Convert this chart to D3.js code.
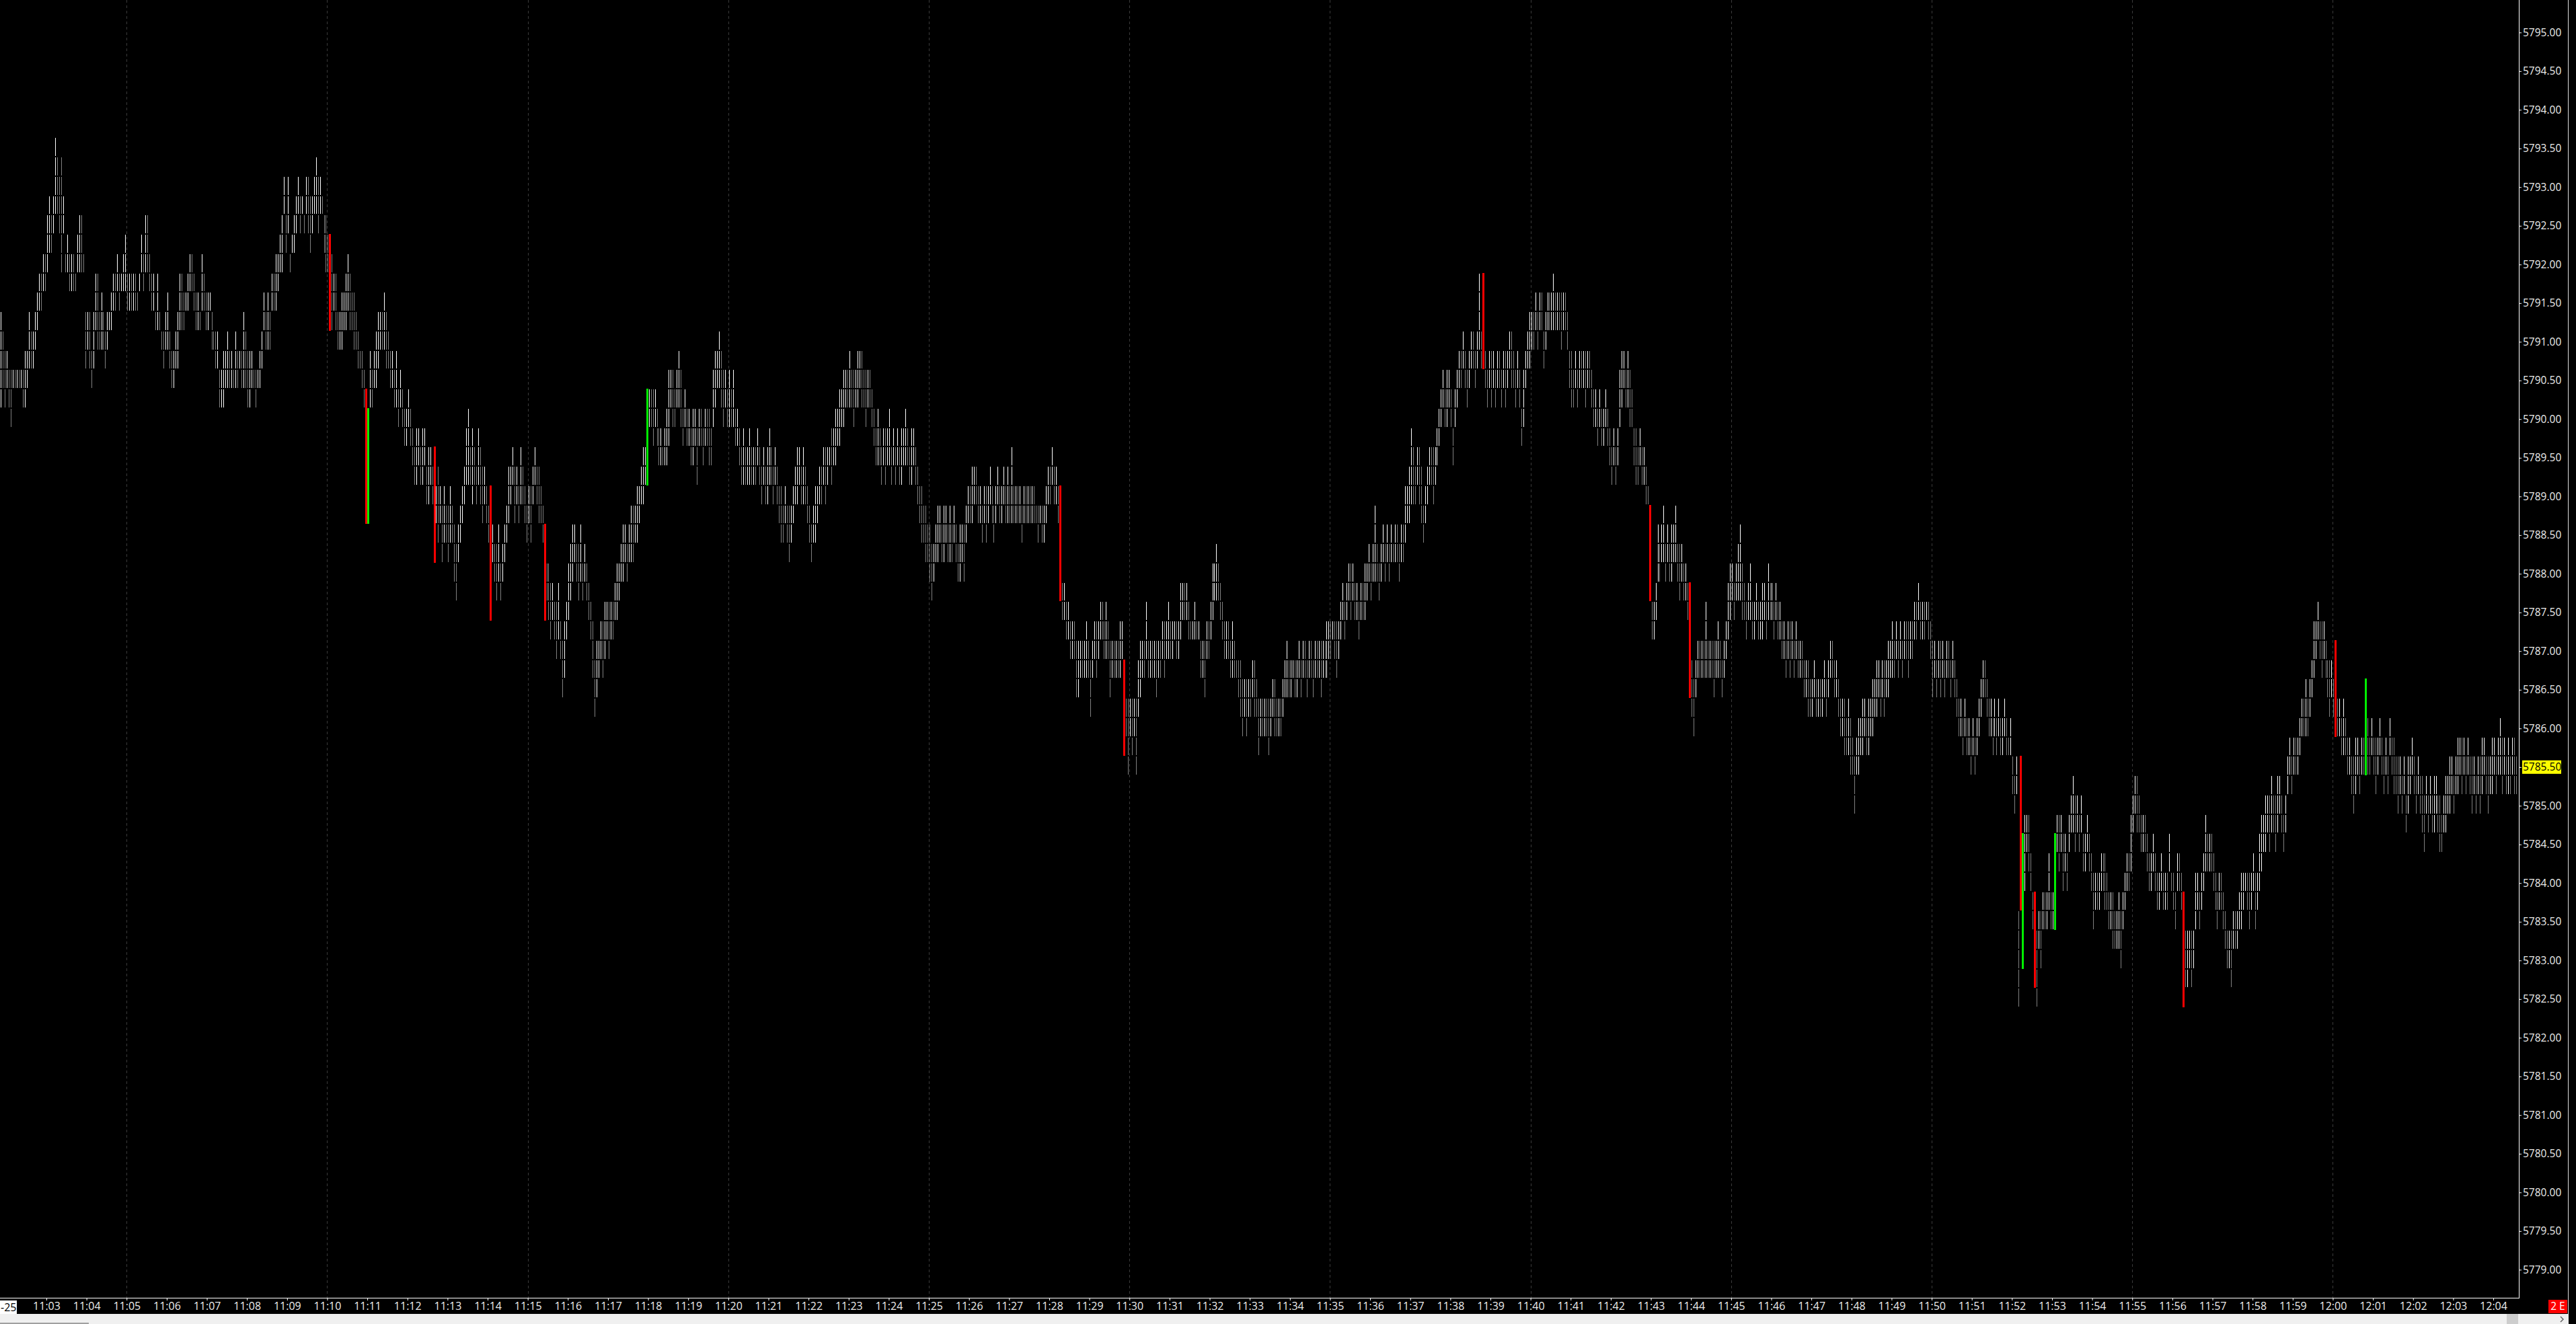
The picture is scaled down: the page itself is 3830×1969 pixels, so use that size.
<!DOCTYPE html>
<html><head><meta charset="utf-8">
<script src="https://cdn.jsdelivr.net/npm/d3@7"></script>
<style>
html,body{margin:0;padding:0;background:#000;overflow:hidden}
svg{display:block}
</style></head><body>
<script>
// ---------- DATA ----------
// Price level alphabet: index k => price 5780 + k*0.25
const levelAlphabet = "0123456789ABCDEFGHIJKLMNOPQRSTUVWXYZabcdefghijklmnopqrstuvwxyz";
const levelBase = 5780.00;
const levelStep = 0.25;
// 3-second bars starting at this time; each token = lowLevel highLevel,
// prefix "-" = large down bar (red), "+" = large up bar (green)
const barStart = "11:01:52";
const barSeconds = 3;

const barsPart1 = `
fj gi fh gh fg eg gg gg gg gg
gg fg fh gh hj hi hi ij jk kl
kl lm lm mo np no op ps pr oq
mr op mm mn lm lm lm ll mn mo
mo mm hj ij hj gh hj jl il ij
ik ij hi ij jj jk kl kl lm kl
ll lm ln kl kl kl kl kl kk ll
mn lm mo mo lm kl kl jj jl jj
ii hi ij ik hi gh gh hi hj jl
jl jk kk kl lm lm kl jk jk jj
km kl jk jk kk ij ii hi hi fg
fg fh gh gi gh gh gg gi gh hh
gh gj gi fh fh gh gg fg gg gh
hi jk ij ik ij kl kl km lm mn
mo pq no oq mm nn no op pq op
pp oo pq oq np op pq pr oq pq
pp no mo mn -jn jm kl jl ij ij
ik jk jl km jl jk ik ij hi hh
gh fg -Zf +Ze fh fg gh gi hj ij
ij ik hj hi gh gh fg fh ef fg
ef de de ef de cd bc bd cd bc
bd cd ab ac bc ab -Xc Za Yb Za
XZ Ya YZ XZ Ya YZ WY VX XY YZ
Za ab bd be bc ad bc ab bd ac
Zb ab Za YZ -Ua XY WX VX WY VW`;

const barsPart2 = `
WX XY YZ Zb ab bc Zb ab Za ac
ab Za YZ Za Ya ab bc ab Zb Za
YZ -UY VW UW TV UV TU SU TV ST
QS RT TU UW VX WY XY WX VX WY
VW WX VW UV TU RT PR QS RS ST
RT SU TU SU TU TU UV UW VW WX
WY XY WX XY XZ XZ YZ Ya Za ab
ac bc +bf ef ef df ef de cd cd
cc cd ce dg fg eg ef fg fh eg
de ef de de cd ce de bd de de
cd de de ce cd eg fh gh gi fh
eg fg ef eg ef eg de de cd bc
bd bc bc bd bc bc bc cd bc ab
bc ab ac bd bc ab bc ab Za Ya
YZ Za YZ XZ YZ Za ab ac bc ab
ac ab Za YZ XY YZ Ya Za ab ab
bc ac bc cc bd cd ce de df ef
eg fg fg fh fg eg fg fh gh fh
fg eg fg fg ef de cd ce cd bc
cd bd cd ce bc cd bc cd bc bd
cd ce cd bc bd cd bc ab Za Ya
YZ XZ XY WY VX WX XY XZ YZ XY
XZ YZ XY XZ XY YZ XY WX WY XY
WY YZ Za Za Zb ab ab Za Za YZ
Za Ya Za ab Za YZ Za ab Za Za`;

const barsPart3 = `
ab Za Zb Za Zc Za Za Za Za YZ
Za Za Za Za Za Za ZZ YZ ZZ YZ
YZ Za ab ab bc ab ab Za -Va UV
UV TU TU ST ST ST QS QS RS RS
RS RT RS PR RS ST RT ST TU TU
ST SU ST QS RS RS RS RS RT ST
-NR OP MP OP NP OP MP PR QS RS
RS SU RS RS RS RS QS RS RS ST
RT ST SU ST ST TT ST ST TV UV
UV UV TU TT TT TU TT TT RS RS
QS ST ST TU UW VW VX VW UV TU
ST ST ST RS RT RS RR QR PR OQ
PQ OQ PQ PQ QR PR PQ NP OP OP
OP OP NP OP PQ OQ OP OP OP PQ
QR QS QR QR RR QR QR RS QR RS
RS QR RS RS QR RS RS RS QS RS
RS RT ST ST TT ST RT ST TU UV
TU UV VW UW VW UV UV TU UV UV
UW VW WX VW WX WZ WX VW WX XY
WX XY WX XY XX XY XY WX XY XY
Ya Za Zb ad ac ab bc ac Zb YZ
Za ab bc bc ac bc cd de ef fg
ef eg fg ef cd ef fg gh gh hi
gh fg gh hi hi gh hi il hi -hl
gh fg gh fh gh fg gh gh fg gh`;

const barsPart4 = `
fh gh hi gi gh fg gh fg de eg
gh hi hj ij ij jk ij jk jk hi
ij jk jk jk jl jk jk jk ik jk
jk ij gh fh fg gh fg gh gh gh
fh gh gh fg ef ef de ef de de
ef de cd bc cd bc cd eg fh gh
fg fh eg ef cd bd bc cd bc bc
ab aa -VZ TU TU UV WY WX XY XZ
WX XY WX WY XY XZ WX VX WX VW
VW UV -QV PR OQ QR RS RS RS RS
RU RS RS RS QS RS RT RS QR RS
ST TV UW VW UV VW VX VY UW UV
TU UV UW TU TU UV TU TU TV UV
TU UW UV UV TU UV TU TU ST ST
RS ST RT ST RS ST RS RS RS QR
QR PR PQ PQ QR PQ PQ PQ PQ QR
PQ QR RS RS QR QR PQ OP OP NP
NO NP MO MN KM MN MO NO NP OP
NO NP OP OQ PQ PR QR PQ QR PR
QR QS RS RT RS ST RS ST RS ST
ST RT ST ST TU TU UV TU TU TU
UU TU ST QS RS QR RS QS RS QR
RS RS QR RS QR PQ OP OP NO OP
NO NO MN NO MN NO OP PQ QR QR
PQ OP OP NO OP NO OP NO NO OP`;

const barsPart5 = `
NO NN NO LM KL LM AE -FM +CI GJ
IJ HJ GH EF -BF AD DE CE EF EF
EF FH EF EF +EI IJ HJ IJ GI HI
GH IJ JK JL IK JK IJ JK HI HI
IJ HI GH EG FG FG FG GH GH FH
FG EF EF DF DE DE DF CE EF FG
GH GH HJ JK KL JL JK IJ IJ IJ
HI GH GH HI GH FG FG GH FG FG
FG HI GG FG EF GH GH FG -AF BD
BD CD BD CD EG FG EF FG GH HJ
HI HI HI GH FG EF FG FG EF DE
CD CD BD DE DE DE EF EG FG GG
FG EG FG GH EG FG GI HJ IJ IK
JK IK JL JK IK JL KL JK IJ JK
LM MN LM MN MN MN NO OP OP OQ
OP PQ QR RT ST TU ST RT ST RS
QR PR QR PQ -OS OP OP NO NP NO
MN MN LM KM LN MN LM MN MN +MQ
MO MN NO MN LN MN NO MN LM MN
LM NO MN LN LM KM LM KL LM JK
KM LM MN LM KL LM KL JL IK KL
JK KL JK JL KL JK IK IJ JK JL
KL KM LM KL LM LN MN LN MN LM
MN LM KM LM KL LM KM LN MN LM
KM LM LN MN LM MN MO LN MN LM
LN LM MN LN LM`;

const minuteLabels = ["11:03","11:04","11:05","11:06","11:07","11:08","11:09","11:10","11:11","11:12",
"11:13","11:14","11:15","11:16","11:17","11:18","11:19","11:20","11:21","11:22","11:23","11:24",
"11:25","11:26","11:27","11:28","11:29","11:30","11:31","11:32","11:33","11:34","11:35","11:36",
"11:37","11:38","11:39","11:40","11:41","11:42","11:43","11:44","11:45","11:46","11:47","11:48",
"11:49","11:50","11:51","11:52","11:53","11:54","11:55","11:56","11:57","11:58","11:59","12:00",
"12:01","12:02","12:03","12:04"];
const gridMinutes = ["11:05","11:10","11:15","11:20","11:25","11:30","11:35","11:40","11:45","11:50","11:55","12:00"];
const priceTicks = [5779.0,5779.5,5780.0,5780.5,5781.0,5781.5,5782.0,5782.5,5783.0,5783.5,5784.0,5784.5,
5785.0,5785.5,5786.0,5786.5,5787.0,5787.5,5788.0,5788.5,5789.0,5789.5,5790.0,5790.5,5791.0,5791.5,
5792.0,5792.5,5793.0,5793.5,5794.0,5794.5,5795.0];
const lastPrice = 5785.50;
const dateStub = "-25";
const connLabel = "2 E";

// ---------- PARSE ----------
const parseT = d3.timeParse("%H:%M:%S");
const t0 = parseT(barStart);
const lvl = c => levelBase + levelAlphabet.indexOf(c) * levelStep;
const tokens = [barsPart1, barsPart2, barsPart3, barsPart4, barsPart5].join(" ").trim().split(/\s+/);
let prevMid = null, prevColor = "w";
const bars = tokens.map((tok, i) => {
  let kind = "n";
  if (tok[0] === "-") { kind = "r"; tok = tok.slice(1); }
  else if (tok[0] === "+") { kind = "g"; tok = tok.slice(1); }
  const low = lvl(tok[0]), high = lvl(tok[1]);
  const mid = low + high;
  let col;
  if (prevMid === null || mid > prevMid) col = "w";
  else if (mid < prevMid) col = "g";
  else col = prevColor === "w" ? "g" : "w";
  if (kind === "n") { prevColor = col; }
  prevMid = mid;
  return { i, t: new Date(t0.getTime() + i * barSeconds * 1000), low, high, kind, col };
});

// ---------- LAYOUT ----------
const W = 3830, H = 1969;
const plotRight = 3745, plotBottom = 1930;
const svg = d3.select("body").append("svg").attr("width", W).attr("height", H)
  .style("font-family", "'Open Sans', 'Noto Sans', sans-serif");
svg.append("rect").attr("width", W).attr("height", H).attr("fill", "#000");

const x = d3.scaleTime().domain([parseT("11:03:00"), parseT("12:04:00")]).range([69, 3707]);
const y = d3.scaleLinear().domain([5779, 5795]).range([1888.3, 48.3]);
const half = (y(5779) - y(5779.25)) / 2; // half level height
const yOff = -2;

svg.append("defs").append("clipPath").attr("id", "plot")
  .append("rect").attr("x", 0).attr("y", 0).attr("width", plotRight).attr("height", plotBottom);

// grid
svg.append("g").selectAll("line").data(gridMinutes).join("line")
  .attr("x1", d => Math.round(x(parseT(d + ":00"))) + 0.5)
  .attr("x2", d => Math.round(x(parseT(d + ":00"))) + 0.5)
  .attr("y1", 0).attr("y2", plotBottom)
  .attr("stroke", "#3a3a3a").attr("stroke-width", 1).attr("stroke-dasharray", "4,4");

const plot = svg.append("g").attr("clip-path", "url(#plot)").attr("shape-rendering", "crispEdges");

// normal bars: one box per price level
const segs = [];
bars.filter(b => b.kind === "n").forEach(b => {
  const n = Math.round((b.high - b.low) / levelStep);
  for (let k = 0; k <= n; k++) segs.push({ b, p: b.low + k * levelStep });
});
plot.append("g").selectAll("rect").data(segs).join("rect")
  .attr("x", d => Math.round(x(d.b.t)))
  .attr("width", 1)
  .attr("y", d => y(d.p) - half + yOff + 1)
  .attr("height", 2 * half - 2)
  .attr("fill", d => d.b.col === "w" ? "#ffffff" : "#808080");

// big bars
plot.append("g").selectAll("rect").data(bars.filter(b => b.kind !== "n")).join("rect")
  .attr("x", d => Math.round(x(d.t)) - 1)
  .attr("width", 3)
  .attr("y", d => y(d.high) - half + yOff)
  .attr("height", d => y(d.low) - y(d.high) + 2 * half)
  .attr("fill", d => d.kind === "r" ? "#ff0000" : "#00f000");

// axes frame
svg.append("line").attr("x1", plotRight + 0.5).attr("x2", plotRight + 0.5).attr("y1", 0).attr("y2", plotBottom + 1)
  .attr("stroke", "#ffffff");
svg.append("line").attr("x1", 0).attr("x2", plotRight).attr("y1", plotBottom + 0.5).attr("y2", plotBottom + 0.5)
  .attr("stroke", "#ffffff");
svg.append("line").attr("x1", 3818.5).attr("x2", 3818.5).attr("y1", 0).attr("y2", 1954)
  .attr("stroke", "#dddddd");

// x axis
const gx = svg.append("g").attr("transform", `translate(0,${plotBottom})`)
  .call(d3.axisBottom(x).tickValues(minuteLabels.map(m => parseT(m + ":00")))
    .tickFormat(d3.timeFormat("%H:%M")).tickSize(4).tickPadding(3));
gx.select(".domain").remove();
gx.selectAll(".tick line").attr("stroke", "#ffffff");
gx.selectAll(".tick text").attr("fill", "#ececec").style("font-size", "16px")
  .style("font-family", "'Open Sans', sans-serif");

// y axis
const gy = svg.append("g").attr("transform", `translate(${plotRight},0)`)
  .call(d3.axisRight(y).tickValues(priceTicks).tickFormat(d3.format(".2f")).tickSize(4).tickPadding(2));
gy.select(".domain").remove();
gy.selectAll(".tick line").attr("stroke", "#ffffff");
gy.selectAll(".tick text").attr("fill", "#ececec").style("font-size", "15.5px")
  .style("font-family", "'Open Sans', sans-serif");

// last price tag
const ly = y(lastPrice);
svg.append("rect").attr("x", 3750).attr("y", ly - 10).attr("width", 58).attr("height", 20).attr("fill", "#ffff00");
svg.append("text").attr("x", 3751).attr("y", ly).attr("dy", "0.35em").attr("fill", "#000")
  .style("font-size", "15.5px").text(d3.format(".2f")(lastPrice));

// date stub bottom-left
svg.append("rect").attr("x", 0).attr("y", 1934).attr("width", 25).attr("height", 20).attr("fill", "#ffffff");
svg.append("text").attr("x", 1).attr("y", 1944).attr("dy", "0.35em").attr("fill", "#000")
  .style("font-size", "16px").text(dateStub);

// connection badge
svg.append("rect").attr("x", 3789).attr("y", 1933).attr("width", 28).attr("height", 20).attr("fill", "#ff0000");
svg.append("text").attr("x", 3803).attr("y", 1943).attr("dy", "0.35em").attr("text-anchor", "middle")
  .attr("fill", "#ffffff").style("font-size", "15.5px").text(connLabel);

// scrollbar
svg.append("rect").attr("x", 0).attr("y", 1954).attr("width", 3819).attr("height", 15).attr("fill", "#f0f0f0");
svg.append("rect").attr("x", 3727).attr("y", 1954).attr("width", 17).attr("height", 15).attr("fill", "#cdcdcd");
svg.append("rect").attr("x", 0).attr("y", 1967).attr("width", 132).attr("height", 2).attr("fill", "#a0a0a0");
svg.append("path").attr("d", "M3807,1958 L3811,1962 L3807,1966").attr("fill", "none")
  .attr("stroke", "#606060").attr("stroke-width", 1.5);
</script>
</body></html>
